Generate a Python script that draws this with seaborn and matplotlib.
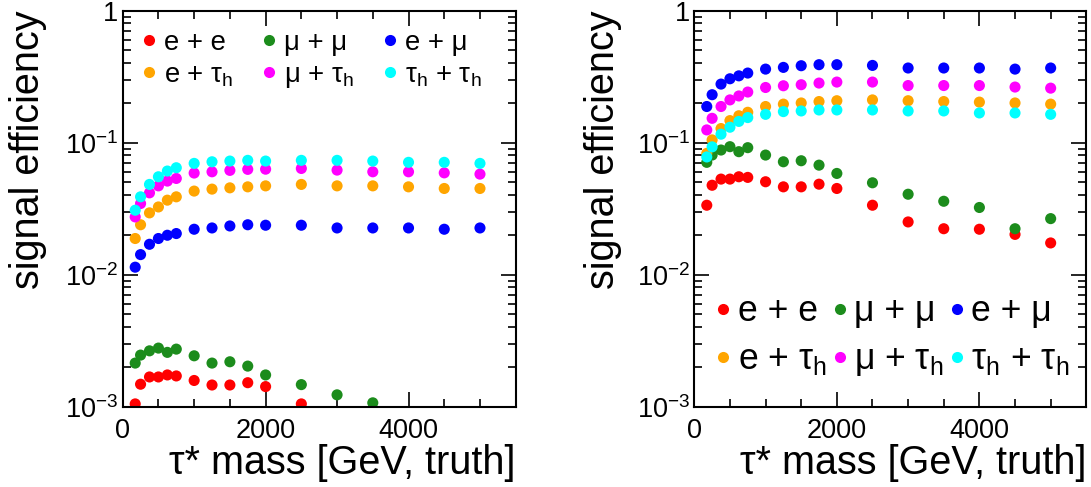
import numpy as np
import pandas as pd
import seaborn as sns
import matplotlib.pyplot as plt
from matplotlib.ticker import FixedLocator, MultipleLocator, LogLocator, FuncFormatter, NullFormatter

# tau* mass points [GeV]
mass = [175, 250, 375, 500, 625, 750, 1000, 1250, 1500, 1750, 2000,
        2500, 3000, 3500, 4000, 4500, 5000]

channels = ["e + e", "μ + μ", "e + μ",
            "e + τ$_\\mathregular{h}$", "μ + τ$_\\mathregular{h}$",
            "τ$_\\mathregular{h}$ + τ$_\\mathregular{h}$"]
colors = ["#ff0000", "#1c8c1c", "#0000ff", "#ffa500", "#ff00ff", "#00ffff"]

# left panel (nan = below 1e-3, not shown)
nan = np.nan
left_ee = [0.00105, 0.00148, 0.00168, 0.00168, 0.00174, 0.00171, 0.00158, 0.00146,
           0.00146, 0.00152, 0.00142, 0.00105, nan, nan, nan, nan, nan]
left_mm = [0.00214, 0.00246, 0.00265, 0.00278, 0.00258, 0.00273, 0.00243, 0.00214,
           0.00219, 0.00203, 0.00174, 0.00147, 0.00123, 0.00107, nan, nan, nan]
left_em = [0.0114, 0.0142, 0.0170, 0.0188, 0.0199, 0.0205, 0.0221, 0.0226, 0.0234,
           0.0239, 0.0237, 0.0237, 0.0226, 0.0226, 0.0226, 0.0221, 0.0226]
left_et = [0.0188, 0.0239, 0.0294, 0.0326, 0.0367, 0.0389, 0.0430, 0.0445, 0.0455,
           0.0463, 0.0471, 0.0483, 0.0471, 0.0471, 0.0463, 0.0450, 0.0450]
left_mt = [0.0274, 0.0346, 0.0417, 0.0471, 0.0512, 0.0536, 0.0589, 0.0602, 0.0617,
           0.0628, 0.0630, 0.0638, 0.0620, 0.0602, 0.0602, 0.0591, 0.0578]
left_tt = [0.0308, 0.0389, 0.0483, 0.0552, 0.0610, 0.0646, 0.0697, 0.0717, 0.0726,
           0.0735, 0.0726, 0.0735, 0.0735, 0.0726, 0.0710, 0.0710, 0.0697]

# right panel
right_ee = [0.0336, 0.0476, 0.0530, 0.0530, 0.0552, 0.0546, 0.0506, 0.0463, 0.0463,
            0.0485, 0.0450, 0.0336, 0.0251, 0.0223, 0.0221, 0.0202, 0.0174]
right_mm = [0.0710, 0.0806, 0.0880, 0.0933, 0.0855, 0.0917, 0.0806, 0.0717, 0.0730,
            0.0676, 0.0585, 0.0497, 0.0407, 0.0360, 0.0323, 0.0223, 0.0266]
right_em = [0.188, 0.231, 0.278, 0.305, 0.321, 0.337, 0.361, 0.372, 0.383,
            0.390, 0.390, 0.385, 0.368, 0.368, 0.368, 0.361, 0.368]
right_et = [0.083, 0.105, 0.128, 0.147, 0.160, 0.170, 0.188, 0.196, 0.200,
            0.205, 0.208, 0.211, 0.208, 0.205, 0.203, 0.200, 0.196]
right_mt = [0.125, 0.153, 0.188, 0.211, 0.226, 0.242, 0.262, 0.270, 0.275,
            0.283, 0.288, 0.288, 0.271, 0.271, 0.271, 0.264, 0.259]
right_tt = [0.078, 0.093, 0.116, 0.131, 0.145, 0.155, 0.164, 0.172, 0.174,
            0.177, 0.177, 0.177, 0.174, 0.174, 0.168, 0.168, 0.164]

left_data = [left_ee, left_mm, left_em, left_et, left_mt, left_tt]
right_data = [right_ee, right_mm, right_em, right_et, right_mt, right_tt]

sns.set_theme(style="ticks")
plt.rcParams['font.family'] = ['Liberation Sans', 'DejaVu Sans']
plt.rcParams['mathtext.fontset'] = 'custom'
plt.rcParams['mathtext.rm'] = 'Liberation Sans'
plt.rcParams['mathtext.default'] = 'regular'
plt.rcParams['axes.linewidth'] = 1.5
plt.rcParams['text.color'] = 'black'
plt.rcParams['axes.labelcolor'] = 'black'
plt.rcParams['xtick.color'] = 'black'
plt.rcParams['ytick.color'] = 'black'


def make_df(series):
    rows = []
    for ch, vals in zip(channels, series):
        for m, v in zip(mass, vals):
            rows.append({'mass': m, 'eff': v, 'channel': ch})
    return pd.DataFrame(rows).dropna()


def ylab(v, pos):
    if abs(v - 1) < 1e-9:
        return "1"
    return r"$\mathregular{10^{%d}}$" % int(round(np.log10(v)))


# column-major order so that legend rows read as in the original
legend_order = [channels[0], channels[3], channels[1], channels[4], channels[2], channels[5]]
pal = dict(zip(channels, colors))

fig, axes = plt.subplots(1, 2, figsize=(10.91, 4.87), dpi=100)
W, H = 1091, 487
axes[0].set_position([122.7 / W, (H - 406.7) / H, 393 / W, 396 / H])
axes[1].set_position([694.3 / W, (H - 406.7) / H, 392 / W, 396 / H])

for ax, series, ylx in zip(axes, [left_data, right_data], [-0.193, -0.185]):
    df = make_df(series)
    sns.scatterplot(data=df, x='mass', y='eff', hue='channel', hue_order=legend_order,
                    palette=pal, s=64, linewidth=0, ax=ax, legend=True)
    ax.set_yscale('log')
    ax.set_ylim(1e-3, 1)
    ax.set_xlim(0, 5500)
    ax.xaxis.set_major_locator(FixedLocator([0, 2000, 4000]))
    ax.xaxis.set_minor_locator(MultipleLocator(500))
    ax.yaxis.set_major_locator(LogLocator(base=10, numticks=10))
    ax.yaxis.set_minor_locator(LogLocator(base=10, subs=np.arange(2, 10), numticks=20))
    ax.yaxis.set_major_formatter(FuncFormatter(ylab))
    ax.yaxis.set_minor_formatter(NullFormatter())
    ax.tick_params(which='both', direction='in', top=True, right=True, colors='black',
                   labelsize=19.5, width=1.2)
    ax.tick_params(which='major', length=11)
    ax.tick_params(which='minor', length=5.5)
    ax.tick_params(axis='x', pad=8)
    ax.tick_params(axis='y', pad=3)
    for sp in ax.spines.values():
        sp.set_color('black')
    ax.set_ylabel("signal efficiency", fontsize=28.5, loc='top')
    ax.yaxis.set_label_coords(ylx, 1.0)
    ax.set_xlabel("τ* mass [GeV, truth]", fontsize=28.5, loc='right')
    ax.xaxis.set_label_coords(1.0, -0.095)

sns.move_legend(axes[0], 'upper left', bbox_to_anchor=(0.045, 0.952), ncol=3, title=None,
                frameon=False, prop={'size': 19.8}, handlelength=0.6, handletextpad=0.25,
                columnspacing=1.0, labelspacing=0.23, borderpad=0, borderaxespad=0)
sns.move_legend(axes[1], 'lower left', bbox_to_anchor=(0.047, 0.072), ncol=3, title=None,
                frameon=False, prop={'size': 25.6}, handlelength=0.6, handletextpad=0.1,
                columnspacing=0.07, labelspacing=0.37, borderpad=0, borderaxespad=0)

fig.savefig("out.png", dpi=100)
